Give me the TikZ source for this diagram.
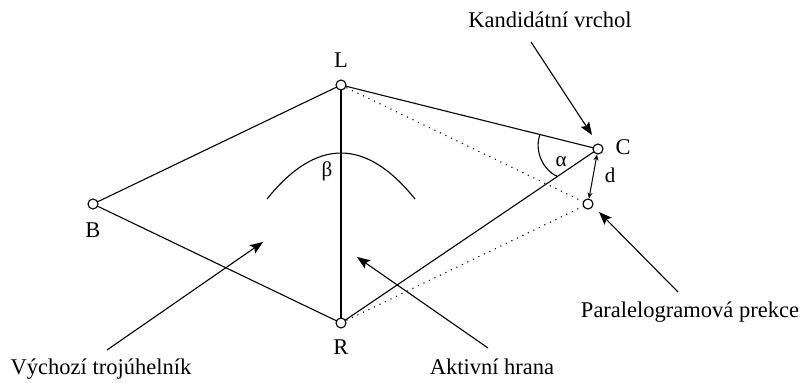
\documentclass[tikz,border=0pt]{standalone}
\usepackage{fontspec}
\setmainfont{Liberation Serif}
\usetikzlibrary{arrows.meta,calc}
\begin{document}
\begin{tikzpicture}[x=1pt,y=1pt,
  vtx/.style={circle,draw,fill=white,line width=1.1pt,minimum size=10pt,inner sep=0pt},
  lbl/.style={font=\fontsize{22.5}{27}\selectfont,inner sep=0pt,anchor=base},
  sm/.style={font=\fontsize{21}{25}\selectfont,inner sep=0pt,anchor=base},
  edge/.style={line width=1.1pt},
  dotedge/.style={line width=1.1pt,dash pattern=on 1.1pt off 5pt},
  pointer/.style={line width=1.1pt,-{Stealth[length=13pt,width=10pt,inset=2.5pt]}},
  darrow/.style={line width=1pt,{Stealth[length=6pt,width=5pt]}-{Stealth[length=6pt,width=5pt]}}
]
\useasboundingbox (0,0) rectangle (801,383);
% vertices positions
\coordinate (pB) at (93,179);
\coordinate (pL) at (341,298);
\coordinate (pR) at (341,60);
\coordinate (pC) at (598,234);
\coordinate (pP) at (588,179);
% edges
\draw[edge] (pB) -- (pL);
\draw[edge] (pB) -- (pR);
\draw[edge] (pL) -- (pR);
\draw[edge] (pL) -- (pC);
\draw[edge] (pR) -- (pC);
\draw[dotedge] (pL) -- (pP);
\draw[dotedge] (pR) -- (pP);
% arcs
\coordinate (b1) at (267,184);
\coordinate (b2) at (415,184);
\draw[edge] (b1) .. controls (316.3,245.3) and (365.7,245.3) .. (b2);
\coordinate (a1) at ($(pC)!59.8pt!(pL)$);
\coordinate (a2) at ($(pC)!49pt!(pR)$);
\draw[edge] (a1) .. controls (534,232) and (543,213) .. (a2);
% vertex circles
\node[vtx] (B) at (pB) {};
\node[vtx] (L) at (pL) {};
\node[vtx] (R) at (pR) {};
\node[vtx] (C) at (pC) {};
\node[vtx] (P) at (pP) {};
\draw[darrow] (C) -- (P);
% labels
\node[lbl] (tL) at (341,315) {L};
\node[lbl] (tB) at (93,145) {B};
\node[lbl] (tR) at (341,28) {R};
\node[lbl] (tC) at (623,228) {C};
\node[sm] (td) at (610,200) {d};
\node[sm] (talpha) at (561,216) {α};
\node[sm] (tbeta) at (327,206) {β};
% annotation texts
\node[lbl] (kand) at (550,355) {Kandidátní vrchol};
\node[lbl] (para) at (690,65) {Paralelogramová prekce};
\node[lbl] (vych) at (101,8) {Výchozí trojúhelník};
\node[lbl] (akt) at (492,8) {Aktivní hrana};
% pointer ends
\coordinate (k0) at (531,341);
\coordinate (k1) at (592,248);
\coordinate (p0) at (678,91);
\coordinate (p1) at (599,171);
\coordinate (v0) at (107,33);
\coordinate (v1) at (263,141);
\coordinate (h0) at (488,35);
\coordinate (h1) at (357,126);
\draw[pointer] (k0) -- (k1);
\draw[pointer] (p0) -- (p1);
\draw[pointer] (v0) -- (v1);
\draw[pointer] (h0) -- (h1);
\end{tikzpicture}
\end{document}
